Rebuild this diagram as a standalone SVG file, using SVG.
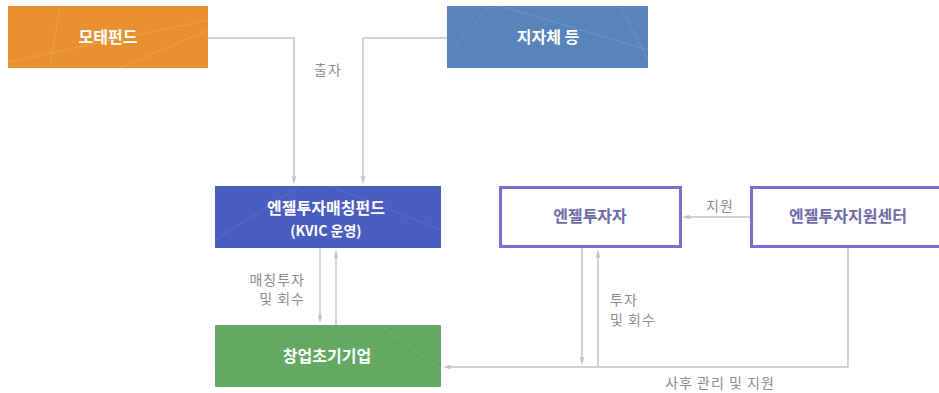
<svg xmlns="http://www.w3.org/2000/svg" width="939" height="393" viewBox="0 0 939 393">
<style>
.nt{font-family:"Noto Sans CJK KR","Noto Sans",sans-serif;font-size:16px;font-weight:bold;text-anchor:middle;}
.w{fill:#ffffff;}
.p{fill:#6e6aa8;}
.lb{font-family:"Noto Sans CJK KR","Noto Sans",sans-serif;font-size:14px;fill:#8c8c8c;letter-spacing:1px;}
.ln{fill:none;stroke:#c4c4c4;stroke-width:1.5;}
.ob{fill:#ffffff;stroke:#7b6fd0;stroke-width:3;}
</style>
<defs>
<marker id="ah" markerWidth="8" markerHeight="14" refX="7" refY="3.5" orient="auto" markerUnits="userSpaceOnUse" viewBox="0 0 12 7">
<path d="M0,0 L12,3.5 L0,7 z" fill="#c4c4c4"/>
</marker>
</defs>
<rect width="939" height="393" fill="#ffffff"/>
<g id="connectors">
<path class="ln" d="M208,38 H294 V181" marker-end="url(#ah)"/>
<path class="ln" d="M447,38 H363 V181" marker-end="url(#ah)"/>
<path class="ln" d="M320,248 V320" marker-end="url(#ah)"/>
<path class="ln" d="M336,325 V253" marker-end="url(#ah)"/>
<path class="ln" d="M750,217 H685" marker-end="url(#ah)"/>
<path class="ln" d="M582,248 V362" marker-end="url(#ah)"/>
<path class="ln" d="M598,367 V253" marker-end="url(#ah)"/>
<path class="ln" d="M848,248 V367 H446" marker-end="url(#ah)"/>
<text class="lb" x="328" y="75" text-anchor="middle">출자</text>
<text class="lb" x="305" y="285" text-anchor="end">매칭투자</text>
<text class="lb" x="305" y="304" text-anchor="end">및 회수</text>
<text class="lb" x="610" y="305">투자</text>
<text class="lb" x="610" y="325">및 회수</text>
<text class="lb" x="720" y="211" text-anchor="middle">지원</text>
<text class="lb" x="720" y="388" text-anchor="middle">사후 관리 및 지원</text>
</g>
<g id="motae">
<rect x="8" y="6" width="200" height="62" fill="#e8902f"/>
<path d="M8,62 L208,20 M60,6 L50,68 M120,68 L208,30" stroke="#f2b060" stroke-width="1" opacity="0.5"/>
<text class="nt w" x="108" y="43">모태펀드</text>
</g>
<g id="jijache">
<rect x="447" y="6" width="201" height="62" fill="#5883bb"/>
<path d="M447,55 L490,6 M500,6 L648,50 M620,6 L648,60" stroke="#7ea2cf" stroke-width="1" opacity="0.5"/>
<text class="nt w" x="548" y="43">지자체 등</text>
</g>
<g id="matching">
<rect x="215" y="186" width="226" height="62" fill="#4a5dc0"/>
<path d="M215,240 L300,186 M330,186 L441,230" stroke="#6f80d4" stroke-width="1" opacity="0.5"/>
<text class="nt w" x="326" y="214">엔젤투자매칭펀드</text>
<text class="nt w" x="326" y="236" style="font-size:14px">(KVIC 운영)</text>
</g>
<g id="startup">
<rect x="215" y="325" width="226" height="62" fill="#63a863"/>
<path d="M215,380 L270,325 M380,325 L441,370" stroke="#85c085" stroke-width="1" opacity="0.5"/>
<text class="nt w" x="327" y="362">창업초기기업</text>
</g>
<g id="angel">
<rect class="ob" x="500.5" y="187.5" width="180" height="59"/>
<text class="nt p" x="590" y="222">엔젤투자자</text>
</g>
<g id="center">
<rect class="ob" x="751.5" y="187.5" width="200" height="59"/>
<text class="nt p" x="848" y="222">엔젤투자지원센터</text>
</g>
</svg>
